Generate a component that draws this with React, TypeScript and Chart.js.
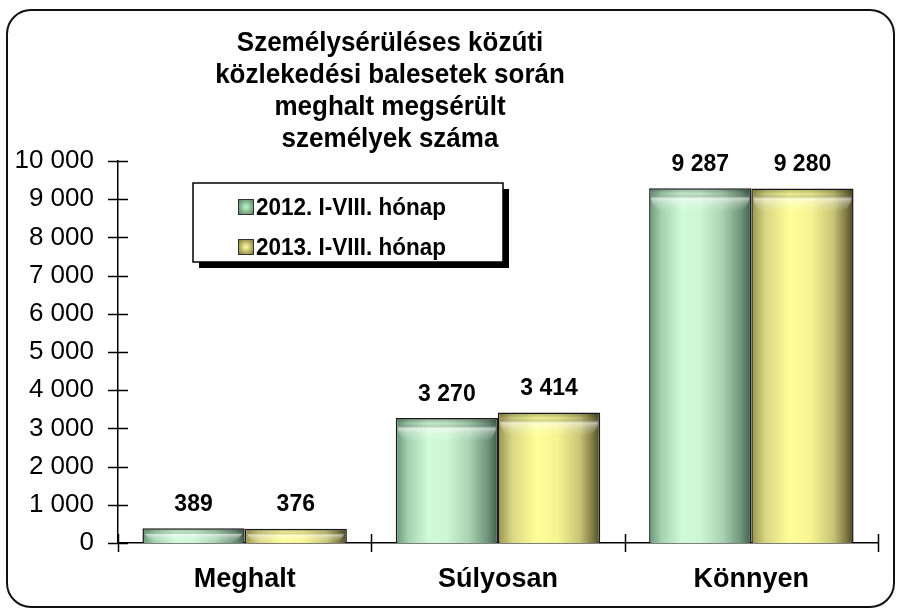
import React, { useEffect, useRef } from 'react';
import { Chart, registerables } from 'chart.js';

Chart.register(...registerables);

const categories = ['Meghalt', 'Súlyosan', 'Könnyen'];
const values2012 = [389, 3270, 9287];
const values2013 = [376, 3414, 9280];
const seriesNames = ['2012. I-VIII. hónap', '2013. I-VIII. hónap'];
const titleLines = [
  'Személysérüléses közúti',
  'közlekedési balesetek során',
  'meghalt megsérült',
  'személyek száma',
];
const yMin = 0;
const yMax = 10000;
const yStep = 1000;

const FONT = '"Liberation Sans", Arial, Helvetica, sans-serif';
const CAT_PCT = 0.807;

const fmt = (v: number) => String(v).replace(/\B(?=(\d{3})+(?!\d))/g, ' ');

const greenStops: [number, string][] = [
  [0, '#6a967a'],
  [0.12, '#a3d2ae'],
  [0.32, '#d0fad8'],
  [0.5, '#cdf6d5'],
  [0.72, '#a8d2b0'],
  [0.9, '#6f947a'],
  [1, '#3f5c47'],
];
const yellowStops: [number, string][] = [
  [0, '#99934e'],
  [0.14, '#d9d784'],
  [0.38, '#ffff99'],
  [0.58, '#f6f492'],
  [0.8, '#c9c576'],
  [0.93, '#7d7842'],
  [1, '#4a4628'],
];
const palettes = [greenStops, yellowStops];
const flatColors = ['#bfe8c6', '#eeee8c'];

function barGradient(ctx: any, dsIndex: number) {
  const chart = ctx.chart;
  const xs = chart.scales && chart.scales.x;
  if (ctx.dataIndex === undefined || !xs || !isFinite(xs.width) || xs.width <= 0) {
    return flatColors[dsIndex];
  }
  const c = xs.getPixelForValue(ctx.dataIndex);
  const catW = xs.width / categories.length;
  const barW = (catW * CAT_PCT) / 2;
  const left = dsIndex === 0 ? c - barW : c;
  const right = left + barW;
  const g = chart.ctx.createLinearGradient(left, 0, right, 0);
  palettes[dsIndex].forEach(([o, col]) => g.addColorStop(o, col));
  return g;
}

function stretchedText(c: CanvasRenderingContext2D, text: string, x: number, y: number, sy: number) {
  c.save();
  c.translate(x, y);
  c.scale(1, sy);
  c.fillText(text, 0, 0);
  c.restore();
}

const decorPlugin = {
  id: 'decor',
  beforeDraw(chart: any) {
    const c = chart.ctx;
    c.save();
    c.fillStyle = '#ffffff';
    c.fillRect(0, 0, chart.width, chart.height);
    c.beginPath();
    (c as any).roundRect(7, 10, 887, 597, 24);
    c.lineWidth = 2;
    c.strokeStyle = '#111';
    c.stroke();
    c.restore();
  },
  afterDatasetsDraw(chart: any) {
    const c = chart.ctx;
    c.save();
    chart.data.datasets.forEach((ds: any, di: number) => {
      const meta = chart.getDatasetMeta(di);
      meta.data.forEach((el: any, i: number) => {
        const p = el.getProps(['x', 'y', 'width', 'base'], true);
        const left = p.x - p.width / 2;
        const h = Math.min(22, p.base - p.y - 2);
        if (h > 3) {
          const g = c.createLinearGradient(0, p.y + 1, 0, p.y + 1 + h);
          g.addColorStop(0, 'rgba(0,0,0,0.28)');
          g.addColorStop(0.22, 'rgba(0,0,0,0.06)');
          g.addColorStop(0.42, 'rgba(255,255,255,0.55)');
          g.addColorStop(0.65, 'rgba(255,255,255,0.25)');
          g.addColorStop(1, 'rgba(255,255,255,0)');
          c.fillStyle = g;
          c.beginPath();
          (c as any).roundRect(left + 2, p.y + 1, p.width - 4, h, [0, 0, 14, 14]);
          c.fill();
        }
        c.fillStyle = '#000';
        c.font = `bold 23px ${FONT}`;
        c.textAlign = 'center';
        c.textBaseline = 'middle';
        stretchedText(c, fmt(ds.data[i]), p.x, p.y - 24, 1.06);
      });
    });
    c.restore();
  },
  afterDraw(chart: any) {
    const c = chart.ctx;
    const xs = chart.scales.x;
    const ys = chart.scales.y;
    const area = chart.chartArea;
    c.save();
    c.strokeStyle = '#000';
    c.lineWidth = 1.5;
    ys.ticks.forEach((t: any) => {
      const y = Math.round(ys.getPixelForValue(t.value)) + 0.5;
      c.beginPath();
      c.moveTo(area.left - 10, y);
      c.lineTo(area.left + 10, y);
      c.stroke();
    });
    const catW = xs.width / categories.length;
    for (let i = 0; i <= categories.length; i++) {
      const x = Math.round(xs.left + i * catW) + 0.5;
      c.beginPath();
      c.moveTo(x, area.bottom - 9);
      c.lineTo(x, area.bottom + 9);
      c.stroke();
    }
    c.fillStyle = '#000';
    c.font = `bold 26px ${FONT}`;
    c.textAlign = 'center';
    c.textBaseline = 'middle';
    titleLines.forEach((line, i) => {
      stretchedText(c, line, 390, 43 + i * 32, 1.08);
    });
    const lx = 193, ly = 183, lw = 310, lh = 79;
    c.fillStyle = '#000';
    c.fillRect(lx + 6, ly + 6, lw, lh);
    c.fillStyle = '#fff';
    c.fillRect(lx, ly, lw, lh);
    c.lineWidth = 1.5;
    c.strokeStyle = '#000';
    c.strokeRect(lx, ly, lw, lh);
    const markerColors = [
      ['#b4ecbe', '#4d7056'],
      ['#f4f294', '#6b6632'],
    ];
    seriesNames.forEach((name, i) => {
      const cy = 207 + i * 40;
      const mx = 238, my = cy - 8, ms = 16;
      const rg = c.createRadialGradient(mx + ms / 2, my + ms / 2, 1, mx + ms / 2, my + ms / 2, ms * 0.7);
      rg.addColorStop(0, markerColors[i][0]);
      rg.addColorStop(1, markerColors[i][1]);
      c.fillStyle = rg;
      c.fillRect(mx, my, ms, ms);
      c.lineWidth = 1;
      c.strokeStyle = '#333';
      c.strokeRect(mx + 0.5, my + 0.5, ms - 1, ms - 1);
      c.fillStyle = '#000';
      c.font = `bold 22.5px ${FONT}`;
      c.textAlign = 'left';
      c.textBaseline = 'middle';
      stretchedText(c, name, 256, cy + 1, 1.1);
    });
    c.restore();
  },
};

export default function App() {
  const ref = useRef<HTMLCanvasElement | null>(null);

  useEffect(() => {
    if (!ref.current) return;
    Chart.defaults.font.family = FONT;
    const chart = new Chart(ref.current, {
      type: 'bar',
      data: {
        labels: categories,
        datasets: [
          {
            label: seriesNames[0],
            data: values2012,
            backgroundColor: (ctx: any) => barGradient(ctx, 0),
            borderColor: '#1a1a1a',
            borderWidth: 1.5,
            borderSkipped: 'bottom',
            categoryPercentage: CAT_PCT,
            barPercentage: 1,
          },
          {
            label: seriesNames[1],
            data: values2013,
            backgroundColor: (ctx: any) => barGradient(ctx, 1),
            borderColor: '#1a1a1a',
            borderWidth: 1.5,
            borderSkipped: 'bottom',
            categoryPercentage: CAT_PCT,
            barPercentage: 1,
          },
        ],
      },
      options: {
        responsive: false,
        animation: false,
        devicePixelRatio: 1,
        layout: { padding: { top: 161, right: 19, left: 0, bottom: 0 } },
        plugins: {
          legend: { display: false },
          title: { display: false },
          tooltip: { enabled: false },
        },
        scales: {
          x: {
            type: 'category',
            offset: true,
            grid: { display: false, drawTicks: false },
            border: { display: true, color: '#000', width: 1.5 },
            ticks: {
              color: '#000',
              font: { size: 27, weight: 'bold', family: FONT },
              padding: 20,
              maxRotation: 0,
            },
            afterFit: (s: any) => {
              s.height = 72;
            },
          },
          y: {
            min: yMin,
            max: yMax,
            grid: { display: false, drawTicks: false },
            border: { display: true, color: '#000', width: 1.5 },
            ticks: {
              stepSize: yStep,
              color: '#000',
              font: { size: 26, family: FONT },
              padding: 24,
              callback: (v: any) => fmt(Number(v)),
            },
            afterFit: (s: any) => {
              s.width = 118;
            },
          },
        },
      },
      plugins: [decorPlugin],
    });
    return () => chart.destroy();
  }, []);

  return (
    <div style={{ position: 'absolute', left: 0, top: 0, width: 897, height: 615, background: '#fff' }}>
      <canvas ref={ref} width={897} height={615} style={{ display: 'block' }} />
    </div>
  );
}
